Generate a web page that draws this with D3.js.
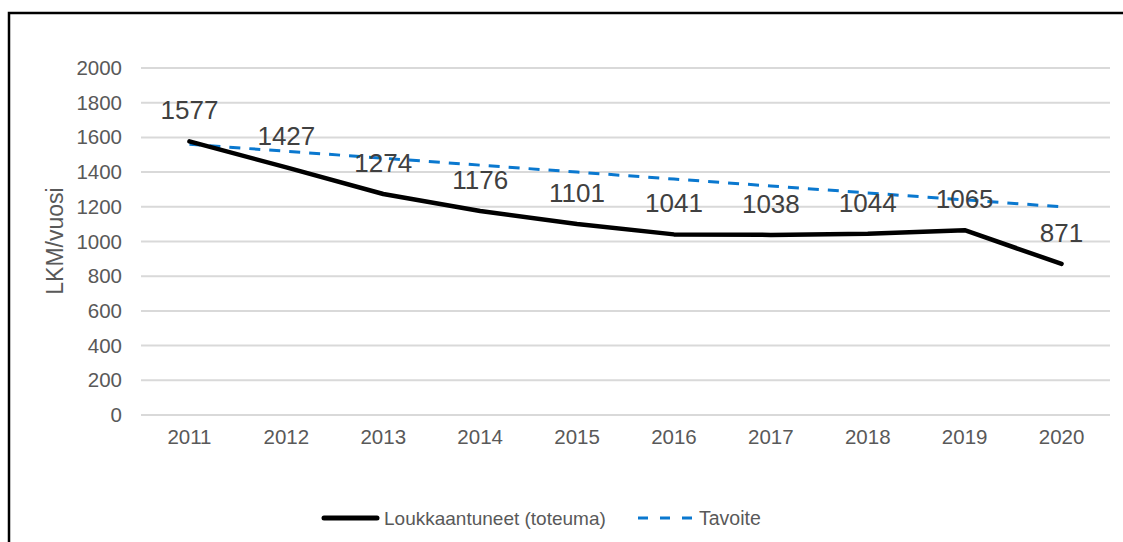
<!DOCTYPE html>
<html>
<head>
<meta charset="utf-8">
<script src="https://cdn.jsdelivr.net/npm/d3@7"></script>
<style>
  body { margin: 0; background: #fff; }
  svg { display: block; font-family: "Liberation Sans", Arial, sans-serif; }
</style>
</head>
<body>
<svg id="chart" width="1123" height="542"></svg>
<script>
var years = ["2011","2012","2013","2014","2015","2016","2017","2018","2019","2020"];
var toteuma = [1577, 1427, 1274, 1176, 1101, 1041, 1038, 1044, 1065, 871];
var tavoite = [1560, 1520, 1480, 1440, 1400, 1360, 1320, 1280, 1240, 1200];
var yTicks = [0, 200, 400, 600, 800, 1000, 1200, 1400, 1600, 1800, 2000];

var svg = d3.select("#chart");

// frame (only top and left edge visible in the picture)
svg.append("rect")
  .attr("x", 9).attr("y", 13)
  .attr("width", 1130).attr("height", 550)
  .attr("fill", "none").attr("stroke", "#000").attr("stroke-width", 2.5);

var xScale = d3.scaleBand().domain(years).range([141, 1110]);
var yScale = d3.scaleLinear().domain([0, 2000]).range([415, 68]);
var xc = function (y) { return xScale(y) + xScale.bandwidth() / 2; };

// gridlines
svg.append("g").selectAll("line").data(yTicks).enter().append("line")
  .attr("x1", 141).attr("x2", 1110)
  .attr("y1", function (d) { return yScale(d); })
  .attr("y2", function (d) { return yScale(d); })
  .attr("stroke", "#d9d9d9").attr("stroke-width", 2);

// y axis labels
var yAxis = d3.axisLeft(yScale).tickValues(yTicks).tickFormat(d3.format("d"))
  .tickSize(0).tickPadding(19);
var gy = svg.append("g").attr("transform", "translate(141,0)").call(yAxis);
gy.select(".domain").remove();
gy.selectAll("text").attr("fill", "#595959").style("font-size", "20.5px")
  .style("font-family", "Liberation Sans, Arial, sans-serif");

// x axis labels
var xAxis = d3.axisBottom(xScale).tickSize(0).tickPadding(14);
var gx = svg.append("g").attr("transform", "translate(0,415)").call(xAxis);
gx.select(".domain").remove();
gx.selectAll("text").attr("fill", "#595959").style("font-size", "20.5px")
  .style("font-family", "Liberation Sans, Arial, sans-serif");

// y axis title
svg.append("text")
  .attr("transform", "translate(63,241) rotate(-90)")
  .attr("text-anchor", "middle")
  .attr("fill", "#595959").style("font-size", "23px")
  .text("LKM/vuosi");

var line = d3.line()
  .x(function (d, i) { return xc(years[i]); })
  .y(function (d) { return yScale(d); });

// target line
svg.append("path").datum(tavoite)
  .attr("d", line)
  .attr("fill", "none").attr("stroke", "#0a78cf").attr("stroke-width", 3)
  .attr("stroke-dasharray", "11,9");

// actual line
svg.append("path").datum(toteuma)
  .attr("d", line)
  .attr("fill", "none").attr("stroke", "#000").attr("stroke-width", 4.5)
  .attr("stroke-linecap", "round").attr("stroke-linejoin", "round");

// data labels
svg.append("g").selectAll("text").data(toteuma).enter().append("text")
  .attr("x", function (d, i) { return xc(years[i]); })
  .attr("y", function (d) { return yScale(d) - 22; })
  .attr("text-anchor", "middle")
  .attr("fill", "#404040").style("font-size", "26px")
  .text(function (d) { return d; });

// legend
var lg = svg.append("g");
lg.append("line").attr("x1", 324).attr("x2", 377).attr("y1", 518).attr("y2", 518)
  .attr("stroke", "#000").attr("stroke-width", 5).attr("stroke-linecap", "round");
lg.append("text").attr("x", 384).attr("y", 525)
  .attr("fill", "#595959").style("font-size", "19px")
  .text("Loukkaantuneet (toteuma)");
lg.append("line").attr("x1", 638).attr("x2", 692).attr("y1", 518).attr("y2", 518)
  .attr("stroke", "#0a78cf").attr("stroke-width", 3).attr("stroke-dasharray", "10,12");
lg.append("text").attr("x", 699).attr("y", 525)
  .attr("fill", "#595959").style("font-size", "19.5px")
  .text("Tavoite");
</script>
</body>
</html>
